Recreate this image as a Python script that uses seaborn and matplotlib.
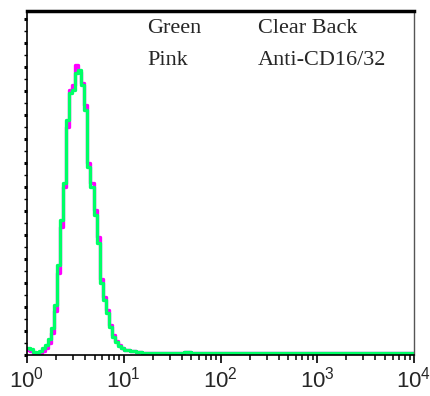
import numpy as np
import pandas as pd
import matplotlib
matplotlib.use("Agg")
import matplotlib.pyplot as plt
import seaborn as sns

# bin edges in decades (log10 of fluorescence); fine bins over the peak, coarse tail
fine_edges = [i / 32 for i in range(39)]
tail_edges = [1.45, 1.62, 1.70, 2.50, 4.00]
bin_edges = fine_edges + tail_edges

green_counts = [7, 6, 3, 2, 4, 7, 10, 16, 27, 50, 90, 135, 172, 235, 262, 265, 282, 285,
                270, 245, 188, 168, 140, 112, 72, 55, 42, 28, 18, 13, 9, 7, 5, 5, 4, 4, 3, 3,
                2, 2, 3, 2, 2]
pink_counts = [5, 4, 2, 1, 2, 4, 7, 12, 22, 44, 82, 128, 168, 228, 265, 270, 290, 283,
               272, 250, 192, 172, 145, 118, 76, 58, 45, 30, 20, 14, 10, 7, 5, 5, 4, 4, 3, 3,
               2, 2, 3, 2, 2]

legend_rows = [("Green", "Clear Back"), ("Pink", "Anti-CD16/32")]
decades = [0, 1, 2, 3, 4]

edges = np.array(bin_edges)
centers = (edges[:-1] + edges[1:]) / 2
df = pd.DataFrame({"channel": np.concatenate([centers, centers]),
                   "count": green_counts + pink_counts,
                   "tube": ["Green"] * len(centers) + ["Pink"] * len(centers)})

sns.set_style("white")
fig = plt.figure(figsize=(4.3, 3.96), dpi=100)
ax = fig.add_axes([27 / 430, 41 / 396, 387 / 430, 344 / 396])

sns.histplot(data=df[df.tube == "Pink"], x="channel", weights="count", bins=bin_edges,
             element="step", fill=False, color="#ff00ff", linewidth=2.4, ax=ax)
sns.histplot(data=df[df.tube == "Green"], x="channel", weights="count", bins=bin_edges,
             element="step", fill=False, color="#00ff66", linewidth=2.4, ax=ax)

ax.set_xlim(0, 4)
ax.set_ylim(0, 344)
ax.set_xlabel("")
ax.set_ylabel("")

ax.set_xticks(decades)
ax.set_xticklabels([r"$\mathregular{10^{%d}}$" % d for d in decades],
                   fontsize=16, family="Liberation Sans")
minor = [d + np.log10(m) for d in decades[:-1] for m in range(2, 10)]
ax.set_xticks(minor, minor=True)
ax.tick_params(axis="x", which="major", direction="out", length=6, width=1.2, pad=2.5,
               bottom=True, color="black")
ax.tick_params(axis="x", which="minor", direction="out", length=3.5, width=1.1,
               bottom=True, color="black")

ax.set_yticks(np.arange(0, 345, 24))
ax.set_yticks(np.arange(12, 345, 24), minor=True)
ax.set_yticklabels([])
ax.tick_params(axis="y", which="major", direction="out", length=2.5, width=2.2, left=True,
               color="black")
ax.tick_params(axis="y", which="minor", direction="out", length=2, width=1, left=True,
               color="black")

for side in ["left", "bottom"]:
    ax.spines[side].set_color("black")
    ax.spines[side].set_linewidth(1.2)
ax.spines["top"].set_color("black")
ax.spines["top"].set_linewidth(2.5)
ax.spines["right"].set_color("#555555")
ax.spines["right"].set_linewidth(1.0)

for i, (name, label) in enumerate(legend_rows):
    y = 1 - (33 + 32 * i) / 396
    fig.text(147 / 430, y, name, fontsize=16, family="Liberation Serif", va="baseline")
    fig.text(258 / 430, y, label, fontsize=16, family="Liberation Serif", va="baseline")

fig.savefig("out.png", dpi=100)
